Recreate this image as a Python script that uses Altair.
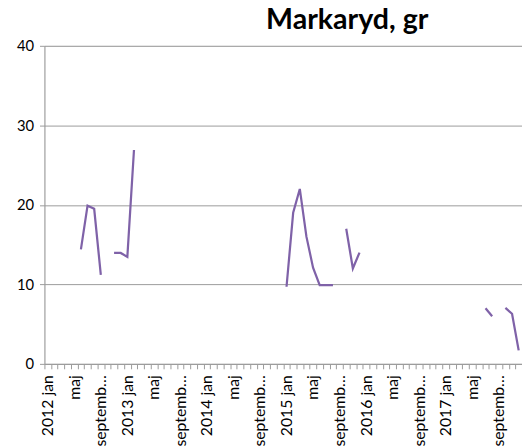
import altair as alt
import pandas as pd

# monthly values 2012 jan .. 2017 dec (None = no measurement)
values = [
    None, None, None, None, None, 14.4, 19.9, 19.5, 11.2, None, 13.95, 13.95,   # 2012
    13.45, 26.9, None, None, None, None, None, None, None, None, None, None,   # 2013
    None, None, None, None, None, None, None, None, None, None, None, None,    # 2014
    9.7, 19.0, 22.0, 16.0, 12.1, 9.9, 9.9, 9.9, None, 17.0, 12.0, 14.0,        # 2015
    None, None, None, None, None, None, None, None, None, None, None, None,    # 2016
    None, None, None, None, None, None, 7.0, 6.0, None, 7.05, 6.3, 1.7,        # 2017
]
tick_labels = []
for y in range(2012, 2019):
    tick_labels += [f"{y} jan", "maj", "septemb\u2026"]

rows = []
seg = 0
for i, v in enumerate(values):
    if v is None:
        seg += 1
        continue
    rows.append({"m": i, "v": v, "seg": seg})
df = pd.DataFrame(rows)

n = len(values)
label_vals = list(range(0, n + 1, 4))
tick_vals = [k - 0.5 for k in range(0, n + 1)]
all_vals = sorted(set(label_vals + tick_vals))
arr = "[" + ",".join("'" + t + "'" for t in tick_labels) + "]"
label_expr = f"datum.value % 4 == 0 ? {arr}[datum.value / 4] : ''"

grey = "#9a9a9a"
font = "Lato"

chart = alt.Chart(df).mark_line(color="#7f62a8", strokeWidth=2.25).encode(
    x=alt.X("m:Q",
            scale=alt.Scale(domain=[-0.5, n - 0.5], nice=False, zero=False),
            axis=alt.Axis(values=all_vals, labelExpr=label_expr, labelAngle=-90,
                          labelAlign="right", labelBaseline="middle",
                          labelOverlap=False, labelFlush=False, labelBound=False,
                          tickSize=5, tickColor=grey,
                          tickOpacity={"condition": {"test": "datum.value % 1 != 0", "value": 1}, "value": 0},
                          labelPadding=6, domainColor=grey, domainWidth=1,
                          grid=False, title=None, labelFont=font, labelFontSize=16,
                          labelColor="#000")),
    y=alt.Y("v:Q",
            scale=alt.Scale(domain=[0, 40], nice=False),
            axis=alt.Axis(values=[0, 10, 20, 30, 40], grid=True, gridColor=grey,
                          gridWidth=1, tickSize=5, tickColor=grey, domainColor=grey,
                          labelPadding=6, title=None, labelFont=font, labelFontSize=15,
                          labelColor="#000")),
    detail="seg:N",
).properties(
    width=485, height=323,
    autosize=alt.AutoSizeParams(type="none"),
    padding={"left": 37, "top": 35, "right": 0, "bottom": 81},
    title=alt.TitleParams("Markaryd, gr", font=font, fontSize=29, fontWeight="bold",
                          color="#000", anchor="middle", dx=65, offset=4),
).configure_view(stroke=None).configure(background="white")

chart.save("out.html", embed_options={"renderer": "svg", "actions": False})
